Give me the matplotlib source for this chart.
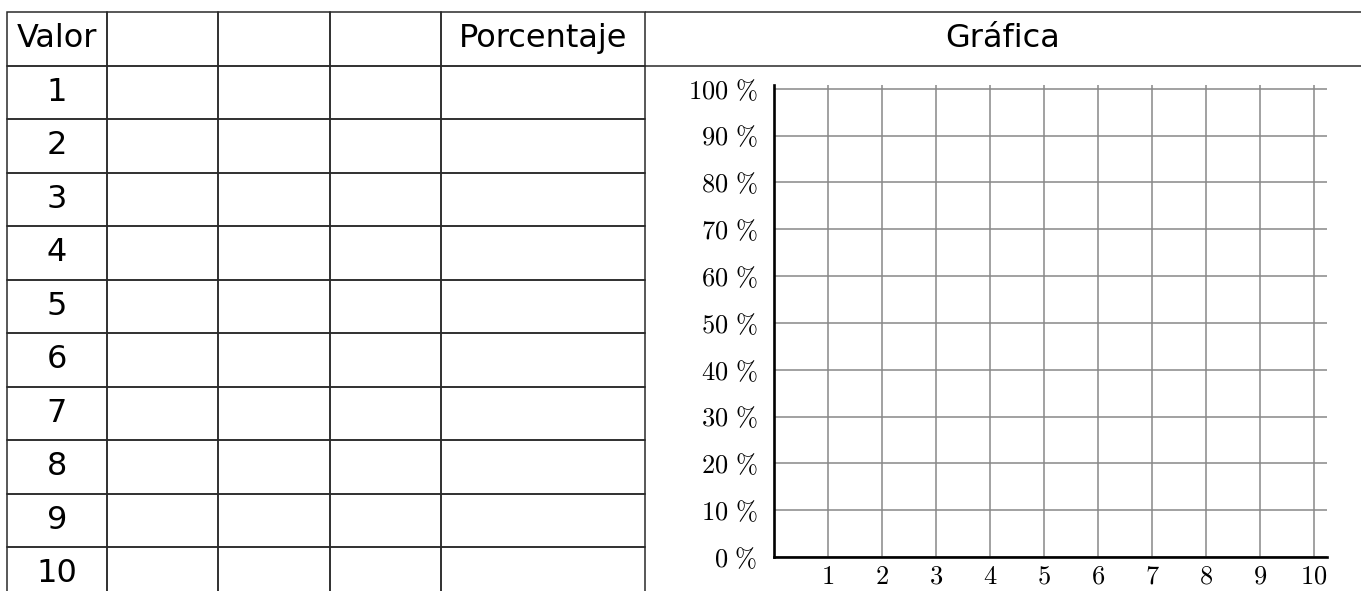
import matplotlib
matplotlib.use('Agg')
import matplotlib.pyplot as plt

# table contents
header = ['Valor', '', '', '', 'Porcentaje', 'Gráfica']
valores = ['1', '2', '3', '4', '5', '6', '7', '8', '9', '10']
col_widths = [100, 111, 112, 111, 204, 716]

# graph ticks
x_ticks = [1, 2, 3, 4, 5, 6, 7, 8, 9, 10]
y_ticks = [0, 10, 20, 30, 40, 50, 60, 70, 80, 90, 100]

plt.rcParams['mathtext.fontset'] = 'cm'

W, H = 1361, 591
fig = plt.figure(figsize=(W / 100, H / 100), dpi=100)

# background axes holding the table (pixel units)
ax0 = fig.add_axes([0, 0, 1, 1])
ax0.set_axis_off()

cells = [header] + [[v, '', '', '', '', ''] for v in valores]
total = sum(col_widths)
row_h = 53.5
tab_h = row_h * len(cells)
tbl = ax0.table(cellText=cells,
                colWidths=[w / total for w in col_widths],
                cellLoc='center',
                bbox=[7 / W, (H - 12 - tab_h) / H, total / W, tab_h / H])
tbl.auto_set_font_size(False)
tbl.set_fontsize(23)
for (r, c), cell in tbl.get_celld().items():
    cell.set_edgecolor('#2a2a2a')
    cell.set_linewidth(1.1)
    cell.set_facecolor('none')
    if c == 5:
        cell.visible_edges = 'TB' if r == 0 else ''

# graph
ax = fig.add_axes([774 / W, 34 / H, 553 / W, 472 / H])
ax.set_xlim(0, 10.24)
ax.set_ylim(0, 100.8)
ax.set_xticks(x_ticks)
ax.set_xticklabels([f'${x}$' for x in x_ticks])
ax.set_yticks(y_ticks)
ax.set_yticklabels([f'${y}\\ \\%$' for y in y_ticks])
ax.grid(True, color='#888888', linewidth=1.1)
ax.set_axisbelow(True)
for s in ['top', 'right']:
    ax.spines[s].set_visible(False)
for s in ['left', 'bottom']:
    ax.spines[s].set_linewidth(1.9)
    ax.spines[s].set_color('black')
ax.tick_params(axis='both', length=0, labelsize=19)
ax.tick_params(axis='y', pad=12)
ax.tick_params(axis='x', pad=5)
ax.patch.set_alpha(0)

fig.savefig('out.png', dpi=100)
